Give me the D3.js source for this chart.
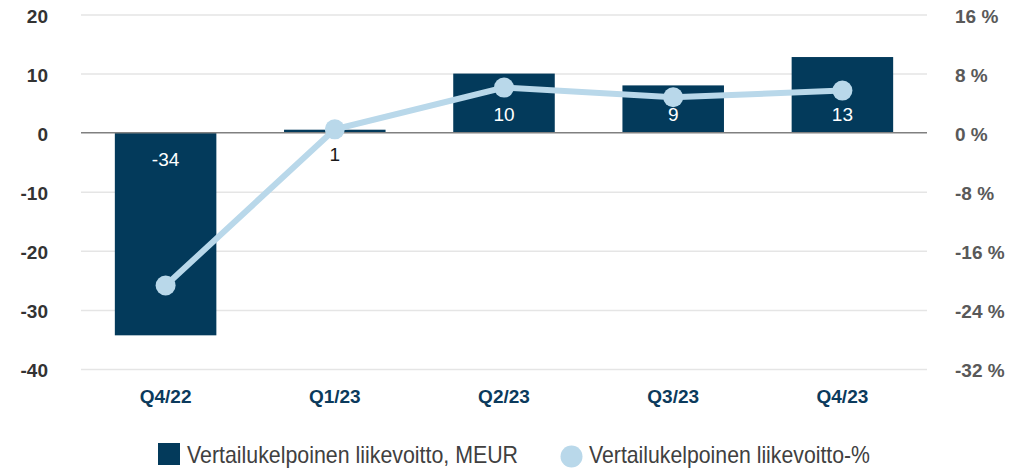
<!DOCTYPE html>
<html>
<head>
<meta charset="utf-8">
<script src="https://cdn.jsdelivr.net/npm/d3@7"></script>
<style>
  html, body { margin: 0; padding: 0; background: #fff; }
  svg text { font-family: "Liberation Sans", Arial, sans-serif; }
</style>
</head>
<body>
<div id="chart"></div>
<script>
  // chart data
  var quarters = ['Q4/22', 'Q1/23', 'Q2/23', 'Q3/23', 'Q4/23'];
  var profitMeur = [-34.3, 0.5, 10.0, 8.0, 12.8];
  var profitLabels = ['-34', '1', '10', '9', '13'];
  var marginPct = [-20.7, 0.45, 6.1, 4.8, 5.7];
  var leftTicks = [20, 10, 0, -10, -20, -30, -40];
  var rightTicks = [16, 8, 0, -8, -16, -24, -32];
  var seriesNames = ['Vertailukelpoinen liikevoitto, MEUR', 'Vertailukelpoinen liikevoitto-%'];

  (function () {
    var width = 1034, height = 468;
    var plotLeft = 81, plotRight = 927, plotTop = 14.5, plotBottom = 369;
    var barColor = '#033a5b', lineColor = '#b9d8ea';

    var svg = d3.select('#chart').append('svg')
        .attr('width', width)
        .attr('height', height);

    var x = d3.scaleBand().domain(quarters).range([plotLeft, plotRight])
        .paddingInner(0.4).paddingOuter(0.2);
    var y = d3.scaleLinear().domain([20, -40]).range([plotTop, plotBottom]);
    var yPct = d3.scaleLinear().domain([16, -32]).range([plotTop, plotBottom]);
    var cx = function(d, i) { return x(quarters[i]) + x.bandwidth() / 2; };

    // gridlines + left labels (plain hyphen for minus, as in the source)
    var gl = svg.append('g')
        .attr('transform', 'translate(' + plotLeft + ',0)')
        .call(d3.axisLeft(y).tickValues(leftTicks).tickSize(-(plotRight - plotLeft)).tickPadding(33)
            .tickFormat(function(d) { return String(d); }));
    gl.select('.domain').remove();
    gl.selectAll('line').attr('stroke', function(d) { return d === 0 ? 'none' : '#e5e5e5'; }).attr('stroke-width', 1.5);
    gl.selectAll('text')
        .attr('fill', '#333')
        .attr('font-size', 19)
        .attr('font-weight', 'bold')
        .attr('dy', '0.4em');

    // right labels
    var gr = svg.append('g')
        .attr('transform', 'translate(' + plotRight + ',0)')
        .call(d3.axisRight(yPct).tickValues(rightTicks).tickSize(0).tickPadding(28)
            .tickFormat(function(d) { return String(d) + ' %'; }));
    gr.select('.domain').remove();
    gr.selectAll('text')
        .attr('fill', '#595959')
        .attr('font-size', 19)
        .attr('font-weight', 'bold')
        .attr('dy', '0.4em');

    // bars
    svg.selectAll('rect.bar').data(profitMeur)
        .enter().append('rect')
        .attr('class', 'bar')
        .attr('x', function(d, i) { return x(quarters[i]); })
        .attr('width', x.bandwidth())
        .attr('y', function(d) { return y(Math.max(0, d)); })
        .attr('height', function(d) { return Math.abs(y(d) - y(0)); })
        .attr('fill', barColor);

    // zero line
    svg.append('line')
        .attr('x1', plotLeft).attr('x2', plotRight)
        .attr('y1', y(0)).attr('y2', y(0))
        .attr('stroke', '#808080').attr('stroke-width', 1.5);

    // bar value labels
    svg.selectAll('text.val').data(profitMeur)
        .enter().append('text')
        .attr('class', 'val')
        .attr('x', cx)
        .attr('y', function(d) {
          if (d < 0) return y(0) + 27;
          if (d < 2) return y(0) + 22;
          return y(0) - 18;
        })
        .attr('dy', '0.35em')
        .attr('text-anchor', 'middle')
        .attr('font-size', 19)
        .attr('fill', function(d) { return (d >= 0 && d < 2) ? '#1a1a1a' : '#fff'; })
        .text(function(d, i) { return profitLabels[i]; });

    // margin line
    var line = d3.line().x(cx).y(function(d) { return yPct(d); });
    svg.append('path')
        .datum(marginPct)
        .attr('d', line)
        .attr('fill', 'none')
        .attr('stroke', lineColor)
        .attr('stroke-width', 6);
    svg.selectAll('circle.pt').data(marginPct)
        .enter().append('circle')
        .attr('class', 'pt')
        .attr('cx', cx)
        .attr('cy', function(d) { return yPct(d); })
        .attr('r', 10)
        .attr('fill', lineColor);

    // category labels
    svg.selectAll('text.cat').data(quarters)
        .enter().append('text')
        .attr('class', 'cat')
        .attr('x', function(d) { return x(d) + x.bandwidth() / 2; })
        .attr('y', 403)
        .attr('text-anchor', 'middle')
        .attr('font-size', 19)
        .attr('font-weight', 'bold')
        .attr('fill', '#0b3a5c')
        .text(function(d) { return d; });

    // legend
    var lg = svg.append('g');
    lg.append('rect').attr('x', 158).attr('y', 443).attr('width', 22).attr('height', 22).attr('fill', barColor);
    lg.append('text').attr('x', 187).attr('y', 463)
        .attr('font-size', 24).attr('fill', '#404040')
        .attr('textLength', 331).attr('lengthAdjust', 'spacingAndGlyphs')
        .text(seriesNames[0]);
    lg.append('circle').attr('cx', 571.5).attr('cy', 456.5).attr('r', 11).attr('fill', lineColor);
    lg.append('text').attr('x', 589).attr('y', 463)
        .attr('font-size', 24).attr('fill', '#404040')
        .attr('textLength', 281).attr('lengthAdjust', 'spacingAndGlyphs')
        .text(seriesNames[1]);
  })();
</script>
</body>
</html>
